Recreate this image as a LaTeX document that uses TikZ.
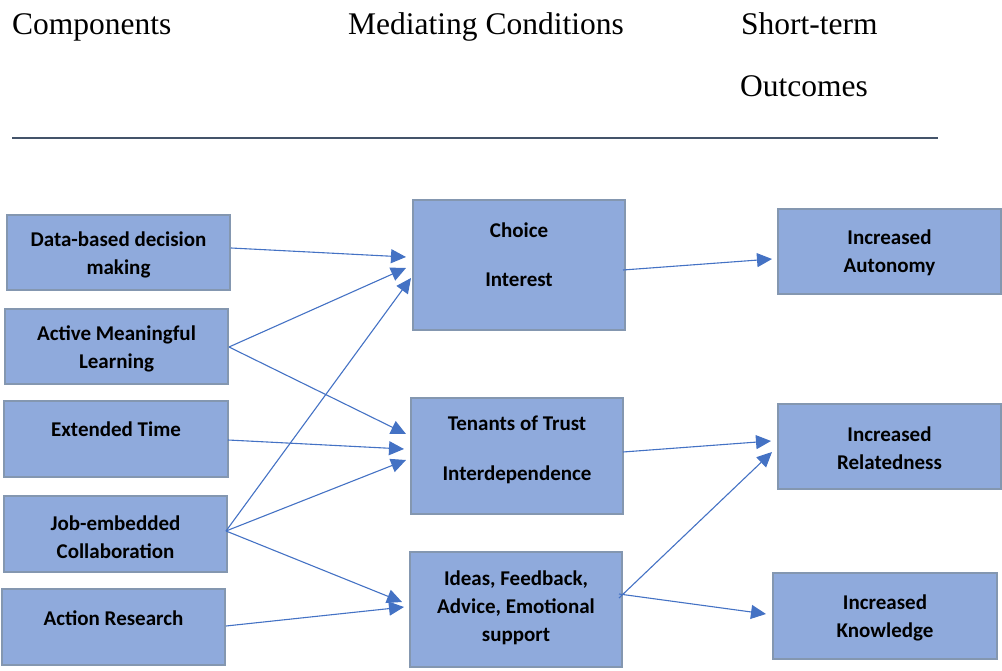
\documentclass[tikz,border=0pt]{standalone}
\usepackage{fontspec}
\setmainfont{Liberation Serif}
\newfontfamily\boxfont{Carlito}
\usetikzlibrary{arrows.meta,calc}
\definecolor{boxfill}{HTML}{8FAADC}
\definecolor{boxedge}{HTML}{8497B0}
\definecolor{arrowblue}{HTML}{4472C4}
\definecolor{rulecol}{HTML}{44546A}
\tikzset{
  box/.style={draw=boxedge, fill=boxfill, line width=2pt, rectangle, inner sep=0pt},
  boxtext/.style={font=\boxfont\bfseries\fontsize{21}{28}\selectfont, align=center, inner sep=0pt, text=black},
  header/.style={font=\fontsize{31.5}{36}\selectfont, anchor=base west, inner sep=0pt},
  conn/.style={draw=arrowblue, line width=1.1pt, -{Triangle[length=15pt,width=14pt]}}
}
\begin{document}
\begin{tikzpicture}[x=1pt,y=-1pt]
\useasboundingbox (0,0) rectangle (1002,671);
% headers
\node[header] (h1) at (12,35) {Components};
\node[header] (h2) at (348,35) {Mediating Conditions};
\node[header] (h3) at (741,35) {Short-term};
\node[header] (h4) at (740,97) {Outcomes};
\coordinate (r1) at (12,138);
\coordinate (r2) at (938,138);
\draw[rulecol, line width=1.2pt] (r1) -- (r2);
% left column
\node[box, minimum width=223pt, minimum height=75pt] (data) at (118.5,252.5) {};
\node[boxtext] (dataT) at (118.5,255) {Data-based decision\\making};
\node[box, minimum width=223pt, minimum height=75pt] (active) at (116.5,346.5) {};
\node[boxtext] (activeT) at (116.5,349) {Active Meaningful\\Learning};
\node[box, minimum width=224pt, minimum height=76pt] (ext) at (116,439) {};
\node[boxtext] (extT) at (116,429.5) {Extended Time};
\node[box, minimum width=223pt, minimum height=76pt] (job) at (115.5,534) {};
\node[boxtext] (jobT) at (115.5,537) {Job-embedded\\Collaboration};
\node[box, minimum width=223pt, minimum height=76pt] (action) at (113.5,627) {};
\node[boxtext] (actionT) at (113.5,618.5) {Action Research};
% middle column
\node[box, minimum width=212pt, minimum height=130pt] (choice) at (519,265) {};
\node[boxtext] (choiceT) at (519,255) {Choice\\[21pt]Interest};
\node[box, minimum width=212pt, minimum height=116pt] (trust) at (517,456) {};
\node[boxtext] (trustT) at (517,449.5) {Tenants of Trust\\[22pt]Interdependence};
\node[box, minimum width=212pt, minimum height=115pt] (ideas) at (516,609.5) {};
\node[boxtext] (ideasT) at (516,607.5) {Ideas, Feedback,\\Advice, Emotional\\support};
% right column
\node[box, minimum width=223pt, minimum height=85pt] (auto) at (889.5,251.5) {};
\node[boxtext] (autoT) at (889.5,253) {Increased\\Autonomy};
\node[box, minimum width=223pt, minimum height=85pt] (rel) at (889.5,446.5) {};
\node[boxtext] (relT) at (889.5,448) {Increased\\Relatedness};
\node[box, minimum width=224pt, minimum height=86pt] (know) at (885,616) {};
\node[boxtext] (knowT) at (885,618) {Increased\\Knowledge};
% connectors
\draw[conn] ($(data.east)+(0,-4.5)$) -- ($(choice.west)+(-6,-8)$);
\draw[conn] ($(active.east)+(0,0.5)$) -- ($(choice.west)+(-6,3)$);
\draw[conn] ($(active.east)+(0,0.5)$) -- ($(trust.west)+(-4,-22)$);
\draw[conn] ($(ext.east)+(-1,1)$) -- ($(trust.west)+(-6,-7)$);
\draw[conn] ($(job.east)+(-2,-3)$) -- ($(choice.west)+(-1,13)$);
\draw[conn] ($(job.east)+(-2,-3)$) -- ($(trust.west)+(-4,4)$);
\draw[conn] ($(job.east)+(-2,-3)$) -- ($(ideas.west)+(-7,-7.5)$);
\draw[conn] ($(action.east)+(0,-1)$) -- ($(ideas.west)+(-5,-2.5)$);
\draw[conn] ($(choice.east)+(-3,5)$) -- ($(auto.west)+(-5,7.5)$);
\draw[conn] ($(trust.east)+(-1,-4)$) -- ($(rel.west)+(-6,-5.5)$);
\draw[conn] ($(ideas.east)+(-4,-11.5)$) -- ($(rel.west)+(-5,5.5)$);
\draw[conn] ($(ideas.east)+(-4,-15.5)$) -- ($(know.west)+(-6,-2)$);
\end{tikzpicture}
\end{document}
